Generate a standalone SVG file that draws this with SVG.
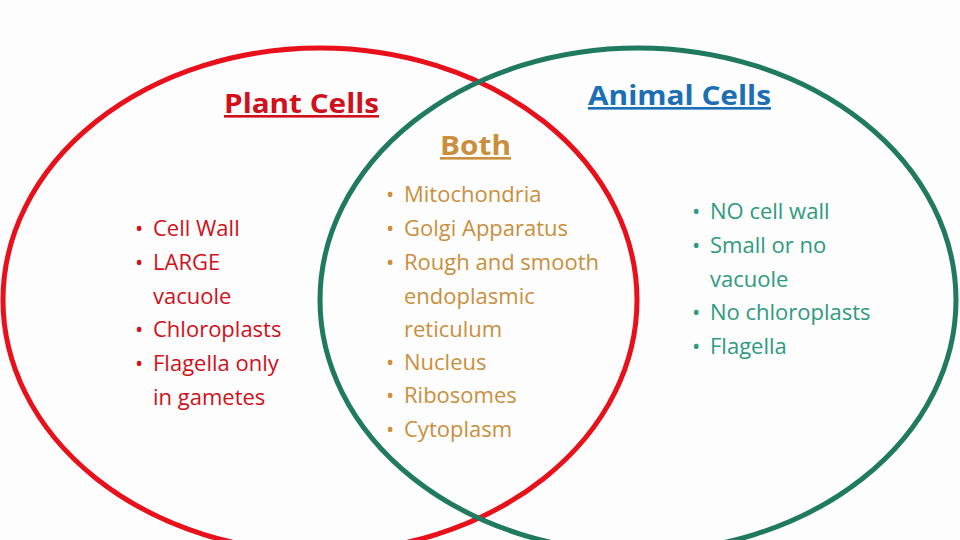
<svg xmlns="http://www.w3.org/2000/svg" width="960" height="540" viewBox="0 0 960 540">
<style>
text{font-family:"Open Sans","Noto Sans","Liberation Sans",sans-serif;font-size:22px}
.t{font-size:26px;font-weight:bold;text-decoration:underline}
.l{fill:#d0101a}.m{fill:#c98f3c}.r{fill:#2e9a80}
</style>
<rect width="960" height="540" fill="#fdfdfd"/>
<g id="connectors"></g>
<g id="plant">
<ellipse cx="320" cy="300" rx="317" ry="252" fill="none" stroke="#e8101a" stroke-width="5"/>
<text class="t l" x="224" y="113" textLength="155" lengthAdjust="spacingAndGlyphs">Plant Cells</text>
<text class="l" x="135" y="236">•</text><text class="l" x="153" y="236">Cell Wall</text>
<text class="l" x="135" y="270">•</text><text class="l" x="153" y="270">LARGE</text>
<text class="l" x="153" y="304">vacuole</text>
<text class="l" x="135" y="337">•</text><text class="l" x="153" y="337">Chloroplasts</text>
<text class="l" x="135" y="371">•</text><text class="l" x="153" y="371">Flagella only</text>
<text class="l" x="153" y="405">in gametes</text>
</g>
<g id="animal">
<ellipse cx="638" cy="300" rx="318" ry="252" fill="none" stroke="#1f7a60" stroke-width="5"/>
<text class="t" fill="#1a6fb5" x="588" y="105" textLength="183" lengthAdjust="spacingAndGlyphs">Animal Cells</text>
<text class="r" x="692" y="219">•</text><text class="r" x="710" y="219">NO cell wall</text>
<text class="r" x="692" y="253">•</text><text class="r" x="710" y="253">Small or no</text>
<text class="r" x="710" y="287">vacuole</text>
<text class="r" x="692" y="320">•</text><text class="r" x="710" y="320">No chloroplasts</text>
<text class="r" x="692" y="354">•</text><text class="r" x="710" y="354">Flagella</text>
</g>
<g id="both">
<text class="t m" x="440" y="155" textLength="71" lengthAdjust="spacingAndGlyphs">Both</text>
<text class="m" x="386" y="202">•</text><text class="m" x="404" y="202">Mitochondria</text>
<text class="m" x="386" y="236">•</text><text class="m" x="404" y="236">Golgi Apparatus</text>
<text class="m" x="386" y="270">•</text><text class="m" x="404" y="270">Rough and smooth</text>
<text class="m" x="404" y="304">endoplasmic</text>
<text class="m" x="404" y="337">reticulum</text>
<text class="m" x="386" y="370">•</text><text class="m" x="404" y="370">Nucleus</text>
<text class="m" x="386" y="403">•</text><text class="m" x="404" y="403">Ribosomes</text>
<text class="m" x="386" y="437">•</text><text class="m" x="404" y="437">Cytoplasm</text>
</g>
</svg>
